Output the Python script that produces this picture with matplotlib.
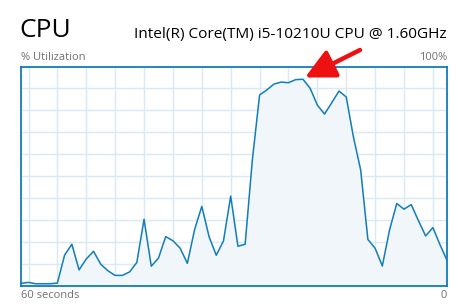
import matplotlib
matplotlib.use("Agg")
import matplotlib.pyplot as plt

plt.rcParams['font.family'] = ['Open Sans', 'DejaVu Sans']

# ---- data ----
seconds = list(range(60))
utilization = [1.1, 1.5, 0.9, 0.9, 0.9, 1.2, 14.0, 18.9, 7.2, 12.2,
               15.7, 9.8, 6.8, 4.7, 4.7, 6.3, 10.6, 30.3, 8.9, 12.6,
               22.4, 20.5, 17.1, 10.2, 25.6, 36.2, 22.4, 13.9, 20.4, 40.9,
               18.0, 18.9, 57.3, 87.0, 89.3, 92.0, 92.9, 92.6, 94.0, 94.2,
               90.1, 82.4, 78.3, 83.5, 88.8, 86.1, 67.8, 52.8, 21.1, 17.1,
               9.0, 25.4, 37.5, 34.9, 37.0, 29.7, 22.7, 26.5, 18.6, 11.3]
vgrid = [1, 5, 9, 13, 17, 21, 25, 29, 33, 37, 41, 45, 49, 53, 57]
hgrid = [10, 20, 30, 40, 50, 60, 70, 80, 90]

title = "CPU"
cpu_name = "Intel(R) Core(TM) i5-10210U CPU @ 1.60GHz"
ylabel_left = "% Utilization"
ylabel_right = "100%"
xlabel_left = "60 seconds"
xlabel_right = "0"

LINE = "#117DBB"
FILL = "#F1F6FA"
GRID = "#D9EAF4"
GRAY = "#707070"

W, H = 458, 307
fig = plt.figure(figsize=(W / 100, H / 100), dpi=100)
fig.patch.set_facecolor("white")

def fx(px):
    return px / W

def fy(py):
    return 1 - py / H

left, right, top, bottom = 21.3, 447.3, 66.5, 285.7
ax = fig.add_axes([fx(left), fy(bottom), fx(right) - fx(left), (bottom - top) / H])
ax.set_xlim(0, 59)
ax.set_ylim(0, 100)
for g in vgrid:
    ax.axvline(g, color=GRID, lw=1, zorder=1)
for g in hgrid:
    ax.axhline(g, color=GRID, lw=1, zorder=1)
ax.fill_between(seconds, utilization, 0, color=FILL, zorder=2)
ax.plot(seconds, utilization, color=LINE, lw=1.1, zorder=3)
ax.set_xticks([])
ax.set_yticks([])
for s in ax.spines.values():
    s.set_color(LINE)
    s.set_linewidth(1.3)

fig.text(fx(19), fy(36.7), title, fontsize=19, color="black", ha="left", va="baseline")
fig.text(fx(447), fy(37.7), cpu_name, fontsize=11.1, color="black", ha="right", va="baseline")
fig.text(fx(21), fy(60), ylabel_left, fontsize=8, color=GRAY, ha="left", va="baseline")
fig.text(fx(447), fy(60), ylabel_right, fontsize=8, color=GRAY, ha="right", va="baseline")
fig.text(fx(21), fy(298.5), xlabel_left, fontsize=8, color=GRAY, ha="left", va="baseline")
fig.text(fx(447), fy(298.5), xlabel_right, fontsize=8, color=GRAY, ha="right", va="baseline")

ax.annotate("", xy=(305, H - 77.5), xycoords="figure pixels",
            xytext=(360, H - 50), textcoords="figure pixels",
            arrowprops=dict(arrowstyle="-|>,head_length=0.9,head_width=0.45",
                            color="#EE1111", lw=3.2, shrinkA=0, shrinkB=0,
                            mutation_scale=20),
            annotation_clip=False)

fig.savefig("out.png", dpi=100)
